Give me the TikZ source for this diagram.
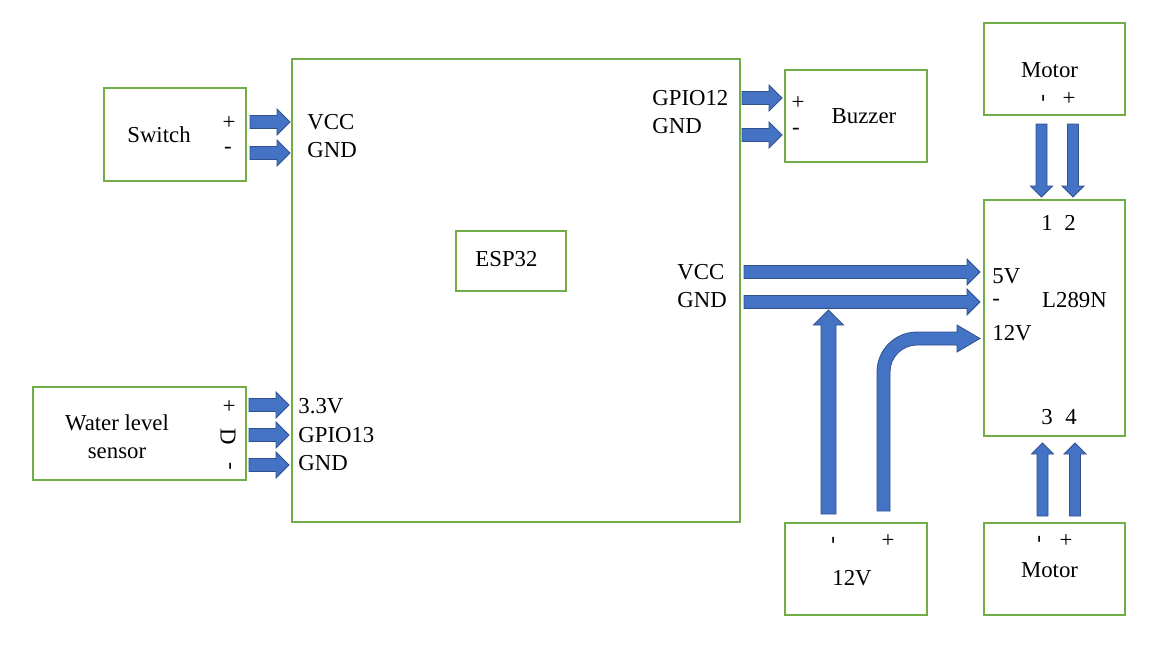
\documentclass[tikz,border=0pt]{standalone}
\usepackage{fontspec}
\setmainfont{Liberation Serif}
\usepackage{tikz}
\usetikzlibrary{calc}
\definecolor{boxgreen}{HTML}{70AD47}
\definecolor{arrowblue}{HTML}{4472C4}
\definecolor{arrowedge}{HTML}{2F528F}

\tikzset{
  module/.style={draw=boxgreen, line width=0.6pt, rectangle, inner sep=0pt},
  lbl/.style={inner sep=0pt, font=\fontsize{11.4}{14}\selectfont},
  portlbl/.style={lbl, anchor=west},
  turned/.style={lbl, rotate=-90},
  blockarrow/.style={fill=arrowblue, draw=arrowedge, line width=0.4pt, line join=miter}
}

% block arrow between two named points, #1 = half shaft width in pt
\newcommand{\blockarrow}[3][3.25]{%
  \pgfmathsetmacro{\bs}{#1}\pgfmathsetmacro{\bh}{2*#1}%
  \coordinate (bq) at ($(#3)!\bh pt!(#2)$);
  \filldraw[blockarrow] ($(#2)!\bs pt!90:(#3)$) -- ($(bq)!\bs pt!-90:(#2)$)
    -- ($(bq)!\bh pt!-90:(#2)$) -- (#3) -- ($(bq)!\bh pt!90:(#2)$)
    -- ($(bq)!\bs pt!90:(#2)$) -- ($(#2)!\bs pt!-90:(#3)$) -- cycle;}

\begin{document}
\begin{tikzpicture}[x=0.5pt, y=-0.5pt]
  \useasboundingbox (0,0) rectangle (1153,649);

  % modules
  \node[module, minimum width=224pt, minimum height=231.5pt] (esp) at (516,290.5) {};
  \node[module, minimum width=55pt, minimum height=30pt] (espbox) at (511,261) {};
  \node[module, minimum width=71pt, minimum height=46.5pt] (switch) at (175,134.5) {};
  \node[module, minimum width=106.5pt, minimum height=46.5pt] (sensor) at (139.5,433.5) {};
  \node[module, minimum width=71pt, minimum height=46pt] (buzzer) at (856,116) {};
  \node[module, minimum width=70.5pt, minimum height=46pt] (motortop) at (1054.5,69) {};
  \node[module, minimum width=70.5pt, minimum height=118pt] (driver) at (1054.5,318) {};
  \node[module, minimum width=70.5pt, minimum height=46pt] (motorbot) at (1054.5,569) {};
  \node[module, minimum width=71pt, minimum height=46pt] (supply) at (856,569) {};

  % texts in the modules
  \node[lbl] (espname) at (506.5,259) {ESP32};
  \node[lbl] (switchname) at (159,135) {Switch};
  \node[lbl] (swplus) at (229,123) {+};
  \node[lbl] (swminus) at (228,150) {-};
  \node[lbl, align=center] (sensorname) at (117,437) {Water level\\sensor};
  \node[turned] (senplus) at (228,406) {+};
  \node[turned] (sendata) at (228,437) {D};
  \node[turned] (senminus) at (228,466) {-};
  \node[lbl] (buzzname) at (864,116) {Buzzer};
  \node[lbl] (bzplus) at (798,103) {+};
  \node[lbl] (bzminus) at (796,131) {-};
  \node[lbl] (mtname) at (1049.5,70) {Motor};
  \node[turned] (mtminus) at (1041,98) {-};
  \node[lbl] (mtplus) at (1069,99) {+};
  \node[lbl] (drvname) at (1074.5,300) {L289N};
  \node[lbl] (drvone) at (1047,223) {1};
  \node[lbl] (drvtwo) at (1070,223) {2};
  \node[portlbl] (drvfive) at (992,276) {5V};
  \node[portlbl] (drvgnd) at (992,302) {-};
  \node[portlbl] (drvtwelve) at (992,333) {12V};
  \node[lbl] (drvthree) at (1047,417) {3};
  \node[lbl] (drvfour) at (1071,417) {4};
  \node[turned] (mbminus) at (1037,539) {-};
  \node[lbl] (mbplus) at (1066,541) {+};
  \node[lbl] (mbname) at (1049.5,570) {Motor};
  \node[turned] (psminus) at (831,540) {-};
  \node[lbl] (psplus) at (888,541) {+};
  \node[lbl] (psname) at (852,578) {12V};

  % ESP32 pins
  \node[portlbl] (espvcc) at (307,122) {VCC};
  \node[portlbl] (espgnd) at (307,150) {GND};
  \node[portlbl] (espthree) at (298,406) {3.3V};
  \node[portlbl] (espgpiothirteen) at (298,435) {GPIO13};
  \node[portlbl] (espgndtwo) at (298,463) {GND};
  \node[portlbl] (espgpiotwelve) at (652,98) {GPIO12};
  \node[portlbl] (espgndthree) at (652,126) {GND};
  \node[portlbl] (espvcctwo) at (677,272) {VCC};
  \node[portlbl] (espgndfour) at (677,300) {GND};

  % arrow ends
  \coordinate (swa) at (250,122);  \coordinate (swb) at (290,122);
  \coordinate (swc) at (250,153);  \coordinate (swd) at (290,153);
  \coordinate (sea) at (249,405);  \coordinate (seb) at (289,405);
  \coordinate (sec) at (249,435);  \coordinate (sed) at (289,435);
  \coordinate (see) at (249,465);  \coordinate (sef) at (289,465);
  \coordinate (bza) at (742,98);   \coordinate (bzb) at (782,98);
  \coordinate (bzc) at (742,135);  \coordinate (bzd) at (782,135);
  \coordinate (dra) at (744,272);  \coordinate (drb) at (980,272);
  \coordinate (drc) at (744,302);  \coordinate (drd) at (980,302);
  \coordinate (psa) at (828.5,514); \coordinate (psb) at (828.5,310);
  \coordinate (mta) at (1041.5,124); \coordinate (mtb) at (1041.5,197);
  \coordinate (mtc) at (1073,124);   \coordinate (mtd) at (1073,197);
  \coordinate (mba) at (1042.5,516); \coordinate (mbb) at (1042.5,443);
  \coordinate (mbc) at (1075,516);   \coordinate (mbd) at (1075,443);

  % arrows
  \blockarrow{swa}{swb}
  \blockarrow{swc}{swd}
  \blockarrow{sea}{seb}
  \blockarrow{sec}{sed}
  \blockarrow{see}{sef}
  \blockarrow{bza}{bzb}
  \blockarrow{bzc}{bzd}
  \blockarrow{dra}{drb}
  \blockarrow{drc}{drd}
  \blockarrow[3.75]{psa}{psb}
  \blockarrow[2.75]{mta}{mtb}
  \blockarrow[2.75]{mtc}{mtd}
  \blockarrow[2.75]{mba}{mbb}
  \blockarrow[2.75]{mbc}{mbd}

  % bent arrow from the 12V supply
  \filldraw[blockarrow] (877,511) -- (877,372) arc[start angle=180, end angle=270, radius=40]
    -- (957,332) -- (957,325) -- (980,338.5) -- (957,352) -- (957,345) -- (917,345)
    arc[start angle=270, end angle=180, radius=27] -- (890,511) -- cycle;
\end{tikzpicture}
\end{document}
